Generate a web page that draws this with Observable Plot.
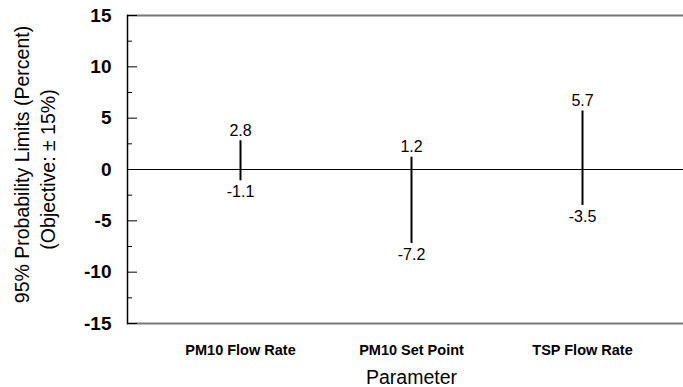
<!DOCTYPE html>
<html>
<head>
<meta charset="utf-8">
<script src="https://cdn.jsdelivr.net/npm/d3@7"></script>
<script src="https://cdn.jsdelivr.net/npm/@observablehq/plot@0.6"></script>
<style>
  html, body { margin: 0; padding: 0; background: #fff; }
</style>
</head>
<body>
<div id="chart"></div>
<script>
const params = ["PM10 Flow Rate", "PM10 Set Point", "TSP Flow Rate"];
const upper = [2.8, 1.2, 5.7];
const lower = [-1.1, -7.2, -3.5];
const majorTicks = [-15, -10, -5, 0, 5, 10, 15];
const minorTicks = [-12.5, -7.5, -2.5, 2.5, 7.5, 12.5];
const yLabelLine1 = "95% Probability Limits (Percent)";
const yLabelLine2 = "(Objective: \u00B1 15%)";
const xLabel = "Parameter";

const data = params.map((p, i) => ({param: p, hi: upper[i], lo: lower[i]}));
const font = "Arial, 'Liberation Sans', Helvetica, sans-serif";

const chart = Plot.plot({
  width: 683,
  height: 387,
  marginLeft: 127,
  marginRight: 0,
  marginTop: 15,
  marginBottom: 64,
  style: {fontFamily: font, background: "white", color: "black"},
  x: {type: "point", domain: params, padding: 0, insetLeft: 112.5, insetRight: 101.5},
  y: {domain: [-15, 15]},
  marks: [
    // top and bottom frame lines (gray)
    Plot.ruleY([15], {stroke: "#777", strokeWidth: 2}),
    Plot.ruleY([-15], {stroke: "#777", strokeWidth: 2}),
    // zero line
    Plot.ruleY([0], {stroke: "black", strokeWidth: 1}),
    // left axis line
    Plot.frame({anchor: "left", stroke: "black", strokeWidth: 1.5}),
    // y tick labels
    Plot.axisY(majorTicks, {tickSize: 0, tickPadding: 16, fontSize: 19, fontWeight: "bold", tickFormat: d => String(d), label: null}),
    // inward ticks
    Plot.axisY(majorTicks, {tickSize: -10, fill: "none", stroke: "black", label: null}),
    Plot.axisY(minorTicks, {tickSize: -5, fill: "none", stroke: "black", label: null}),
    // x category labels
    Plot.axisX(params, {tickSize: 0, tickPadding: 21, fontSize: 14.5, fontWeight: "bold", label: null}),
    // range bars
    Plot.ruleX(data, {x: "param", y1: "lo", y2: "hi", stroke: "black", strokeWidth: 2}),
    // value labels
    Plot.text(data, {x: "param", y: "hi", text: d => d.hi.toFixed(1), dy: -10, fontSize: 16, fill: "black"}),
    Plot.text(data, {x: "param", y: "lo", text: d => d.lo.toFixed(1), dy: 11, fontSize: 16, fill: "black"}),
    // axis titles
    Plot.text([yLabelLine1], {x: null, y: null, text: d => d, frameAnchor: "left", textAnchor: "middle", rotate: -90, dx: -105, dy: -5, fontSize: 19.5, fill: "black"}),
    Plot.text([yLabelLine2], {x: null, y: null, text: d => d, frameAnchor: "left", textAnchor: "middle", rotate: -90, dx: -79, dy: 0, fontSize: 19.5, fill: "black"}),
    Plot.text([xLabel], {x: () => params[1], y: null, text: d => d, frameAnchor: "bottom", dy: 60, fontSize: 19.5, fill: "black"})
  ]
});

document.getElementById("chart").append(chart);
</script>
</body>
</html>
